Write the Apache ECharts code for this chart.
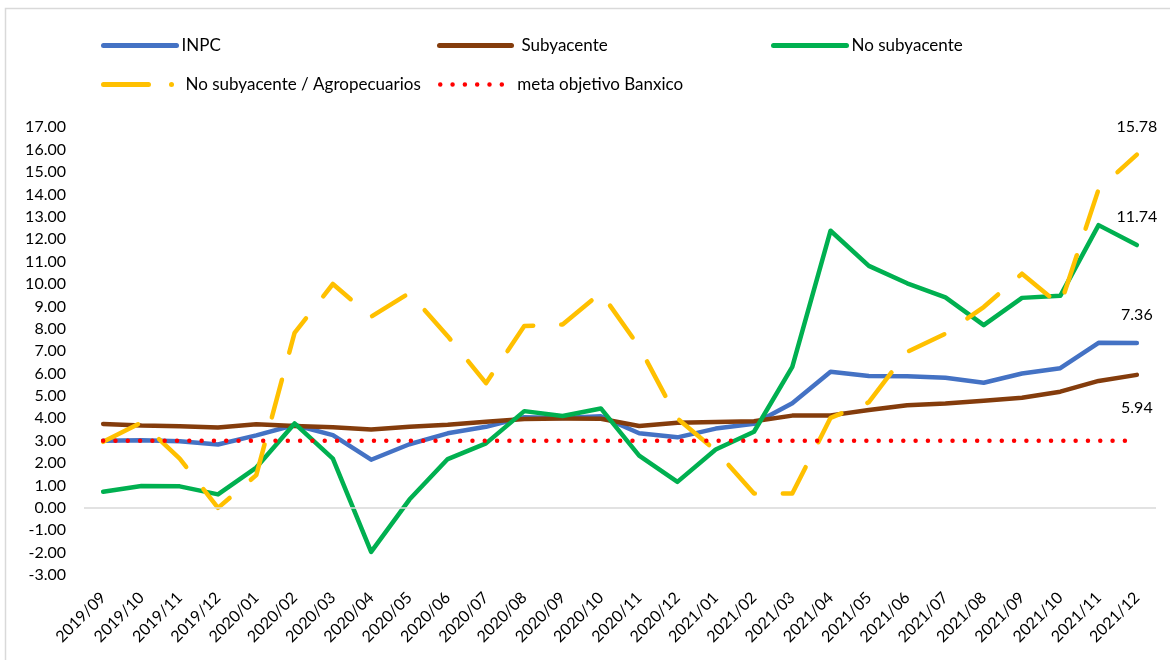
<!DOCTYPE html>
<html>
<head>
<meta charset="utf-8">
<title>Inflación</title>
<script src="https://cdn.jsdelivr.net/npm/echarts@6/dist/echarts.min.js"></script>
<style>
  html, body { margin: 0; padding: 0; background: #fff; }
  #main { width: 1170px; height: 660px; }
</style>
</head>
<body>
<div id="main"></div>
<script type="text/javascript">
// meses
var meses = ['2019/09', '2019/10', '2019/11', '2019/12', '2020/01', '2020/02', '2020/03',
  '2020/04', '2020/05', '2020/06', '2020/07', '2020/08', '2020/09', '2020/10', '2020/11',
  '2020/12', '2021/01', '2021/02', '2021/03', '2021/04', '2021/05', '2021/06', '2021/07',
  '2021/08', '2021/09', '2021/10', '2021/11', '2021/12'];

// series (% anual)
var inpc = [3.00, 3.02, 2.97, 2.83, 3.24, 3.70, 3.25, 2.15, 2.84, 3.33, 3.62, 4.05, 4.01, 4.09,
  3.33, 3.15, 3.54, 3.76, 4.67, 6.08, 5.89, 5.88, 5.81, 5.59, 6.00, 6.24, 7.37, 7.36];
var subyacente = [3.75, 3.68, 3.65, 3.59, 3.73, 3.66, 3.60, 3.50, 3.62, 3.71, 3.85, 3.97, 3.99, 3.98,
  3.66, 3.80, 3.84, 3.87, 4.12, 4.13, 4.37, 4.58, 4.66, 4.78, 4.92, 5.19, 5.67, 5.94];
var noSubyacente = [0.72, 0.98, 0.96, 0.60, 1.80, 3.77, 2.20, -1.97, 0.37, 2.18, 2.88, 4.32, 4.10, 4.44,
  2.33, 1.16, 2.61, 3.40, 6.30, 12.38, 10.81, 10.03, 9.40, 8.16, 9.38, 9.47, 12.63, 11.74];
var agropecuarios = [2.95, 3.81, 2.20, 0.00, 1.46, 7.82, 10.00, 8.54, 9.60, 7.67, 5.57, 8.12, 8.19, 9.61,
  7.20, 3.99, 2.56, 0.64, 0.64, 4.02, 4.72, 6.97, 7.78, 8.97, 10.46, 9.05, 14.23, 15.78];
var meta = [3, 3, 3, 3, 3, 3, 3, 3, 3, 3, 3, 3, 3, 3,
  3, 3, 3, 3, 3, 3, 3, 3, 3, 3, 3, 3, 3, 3];

var FONT = 'Lato';
var ultimo = meses.length - 1;

function etiquetaFinal(arr, pos, dist) {
  return {
    symbol: 'circle',
    symbolSize: 0,
    silent: true,
    data: [{ coord: [meses[ultimo], arr[ultimo]], value: arr[ultimo] }],
    label: {
      show: true,
      position: pos,
      distance: dist,
      color: '#000',
      fontFamily: FONT,
      fontSize: 16,
      formatter: function (p) { return p.value.toFixed(2); }
    }
  };
}

function leyenda(nombre, left, top, width, lineStyle, gapTexto) {
  return {
    data: [nombre],
    left: left,
    top: top,
    itemWidth: width,
    itemHeight: 14,
    padding: 0,
    itemStyle: { opacity: 0 },
    textStyle: { fontFamily: FONT, fontSize: 17, color: '#000', padding: [0, 0, 0, gapTexto || 0] },
    lineStyle: lineStyle
  };
}

var myChart = echarts.init(document.getElementById('main'));
var option = {
  animation: false,
  backgroundColor: '#fff',
  graphic: [{
    type: 'rect',
    shape: { x: 5.5, y: 8.5, width: 1200, height: 700 },
    style: { fill: 'none', stroke: '#d9d9d9', lineWidth: 1.5 },
    silent: true
  }],
  legend: [
    leyenda('INPC', 101, 37, 73, { width: 5, cap: 'round' }),
    leyenda('Subyacente', 437, 37, 72, { width: 5, cap: 'round' }, 5),
    leyenda('No subyacente', 771, 37, 73, { width: 5, cap: 'round' }),
    leyenda('No subyacente / Agropecuarios', 101, 76, 77, { width: 5, cap: 'round', type: [45, 23, 0.01, 40] }),
    leyenda('meta objetivo Banxico', 438, 76, 70, { width: 4.5, cap: 'round', type: [0.01, 12.3] }, 2)
  ],
  grid: {
    left: 84,
    right: 14,
    top: 127.3,
    bottom: 85,
    outerBoundsMode: 'none'
  },
  xAxis: {
    type: 'category',
    data: meses,
    axisLine: { show: false },
    axisTick: { show: false },
    axisLabel: {
      rotate: 45,
      interval: 0,
      margin: 20,
      color: '#000',
      fontFamily: FONT,
      fontSize: 16
    }
  },
  yAxis: {
    type: 'value',
    min: -3,
    max: 17,
    interval: 1,
    axisLine: { show: false },
    axisTick: { show: false },
    splitLine: { show: false },
    axisLabel: {
      margin: 18,
      color: '#000',
      fontFamily: FONT,
      fontSize: 16,
      formatter: function (v) { return v.toFixed(2); }
    }
  },
  series: [
    {
      name: 'INPC',
      type: 'line',
      data: inpc,
      symbol: 'none',
      color: '#4472C4',
      lineStyle: { width: 4.5, cap: 'round', join: 'round' },
      markPoint: etiquetaFinal(inpc, 'top', 20)
    },
    {
      name: 'Subyacente',
      type: 'line',
      data: subyacente,
      symbol: 'none',
      color: '#843C0C',
      lineStyle: { width: 4.5, cap: 'round', join: 'round' },
      markPoint: etiquetaFinal(subyacente, 'bottom', 25)
    },
    {
      name: 'No subyacente',
      type: 'line',
      data: noSubyacente,
      symbol: 'none',
      color: '#00B050',
      lineStyle: { width: 4.5, cap: 'round', join: 'round' },
      markPoint: etiquetaFinal(noSubyacente, 'top', 20)
    },
    {
      name: 'No subyacente / Agropecuarios',
      type: 'line',
      data: agropecuarios,
      symbol: 'none',
      color: '#FFC000',
      lineStyle: { width: 4.5, cap: 'round', join: 'round', type: [39, 28] },
      markPoint: etiquetaFinal(agropecuarios, 'top', 20)
    },
    {
      name: 'meta objetivo Banxico',
      type: 'line',
      data: meta,
      symbol: 'none',
      color: '#FF0000',
      lineStyle: { width: 4.5, cap: 'round', type: [0.01, 12.3] },
      markLine: {
        silent: true,
        symbol: 'none',
        label: { show: false },
        lineStyle: { color: '#d9d9d9', width: 1.5, type: 'solid' },
        data: [{ yAxis: 0 }]
      }
    }
  ]
};
myChart.setOption(option);
</script>
</body>
</html>
